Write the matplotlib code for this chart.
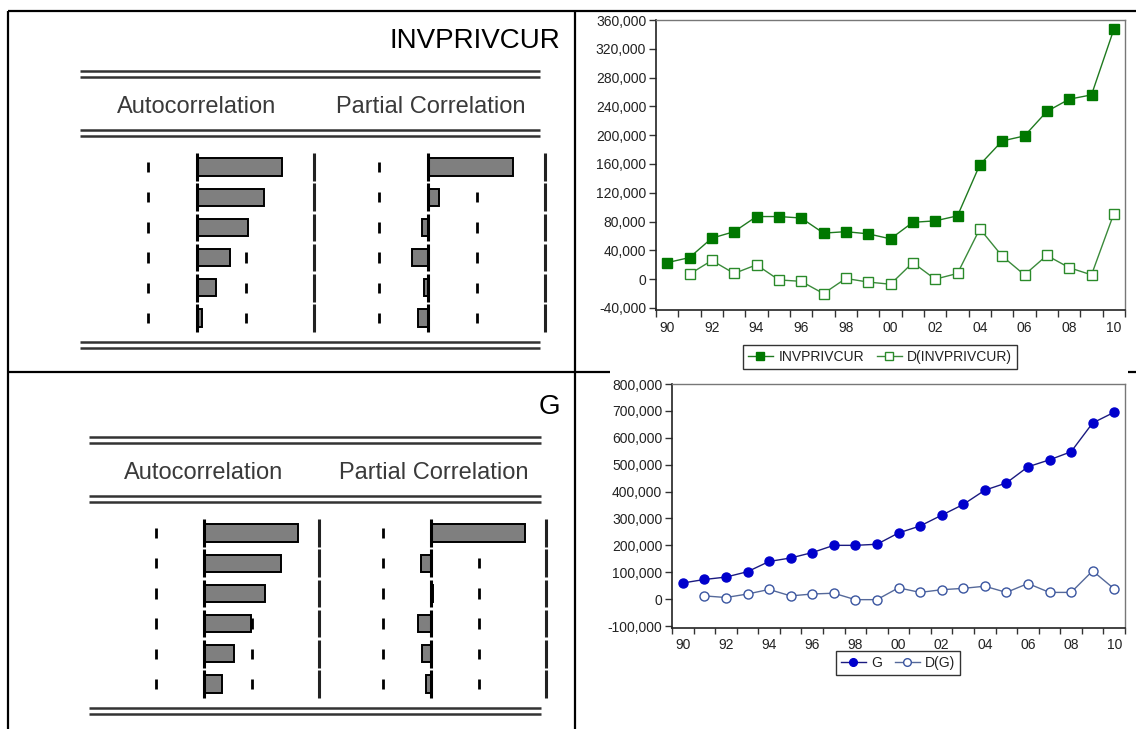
import numpy as np
import matplotlib
matplotlib.use("Agg")
import matplotlib.pyplot as plt
from matplotlib.ticker import FuncFormatter, FixedLocator

plt.rcParams.update({
    "font.family": ["Liberation Sans", "DejaVu Sans"],
    "axes.unicode_minus": False,
})

W, H = 1136, 729

# ---- data ----
YEARS = list(range(1990, 2011))
INVPRIVCUR = [23000, 30000, 57000, 66000, 87000, 87000, 85000, 64000, 66000, 63000,
              56000, 79000, 81000, 88000, 159000, 192000, 199000, 233000, 250000, 256000, 347000]
D_INVPRIVCUR = [np.nan, 7000, 26000, 8000, 20000, -1000, -3000, -20000, 1000, -4000,
                -7000, 23000, 0, 8000, 70000, 32000, 6000, 33000, 16000, 6000, 91000]
G = [60000, 73000, 82000, 102000, 140000, 153000, 173000, 200000, 200000, 204000,
     246000, 272000, 312000, 352000, 405000, 432000, 492000, 518000, 548000, 655000, 695000]
D_G = [np.nan, 12000, 6000, 19000, 36000, 12000, 19000, 22000, -2000, -2000,
       42000, 25000, 35000, 40000, 48000, 25000, 58000, 25000, 25000, 105000, 38000]

LAGS = [1, 2, 3, 4, 5, 6]
ACF_INV = [0.725, 0.57, 0.44, 0.28, 0.16, 0.04]
PACF_INV = [0.73, 0.09, -0.05, -0.14, -0.03, -0.085]
ACF_G = [0.82, 0.67, 0.53, 0.41, 0.26, 0.16]
PACF_G = [0.82, -0.09, 0.02, -0.11, -0.08, -0.04]
CONF = 0.42


def rect(l, t, r, b):
    return [l / W, 1 - b / H, (r - l) / W, (b - t) / H]


fig = plt.figure(figsize=(W / 100, H / 100), dpi=100)
fig.patch.set_facecolor("white")

# overlay in pixel space for the table frame and headings
ov = fig.add_axes([0, 0, 1, 1])
ov.set_xlim(0, W); ov.set_ylim(H, 0); ov.axis("off")
k = dict(color="black", lw=1.6, solid_capstyle="butt")
ov.plot([8, W], [11, 11], **k)
ov.plot([8, 8], [11, H], **k)
ov.plot([575, 575], [11, H], **k)
ov.plot([8, 610], [372, 372], **k)
ov.plot([1128, W], [372, 372], **k)


def correlogram(block_top, x0, acf, pacf, name):
    # block_top: y of first double line; x0: pixel of ACF -1
    span = 117 if name != "G" else 115
    x_right = x0 + 4 * span - 8
    dl = dict(color="#333333", lw=1.8, solid_capstyle="butt")
    for y in (block_top, block_top + 59, block_top + 271):
        ov.plot([x0, x_right], [y, y], **dl)
        ov.plot([x0, x_right], [y + 6, y + 6], **dl)
    ov.text(x0 + span, block_top + 36, "Autocorrelation", ha="center", va="center",
            fontsize=17, color="#3a3a3a")
    ov.text(x0 + 3 * span, block_top + 36, "Partial Correlation", ha="center", va="center",
            fontsize=17, color="#3a3a3a")
    ov.text(560, block_top - 30, name, ha="right", va="center", fontsize=20, color="black")
    rows_top, rows_bot = block_top + 81, block_top + 262
    for i, vals in enumerate((acf, pacf)):
        l = x0 + i * 2 * span - (3 if i else 0)
        ax = fig.add_axes(rect(l, rows_top, l + 2 * span, rows_bot))
        ax.set_xlim(-1, 1); ax.set_ylim(6.5, 0.5); ax.axis("off")
        for r in LAGS:
            ax.vlines(0, r - 0.46, r + 0.46, color="black", lw=2.2, zorder=4)
            ax.vlines(1, r - 0.46, r + 0.46, color="#222222", lw=2.2, zorder=4, clip_on=False)
            ax.vlines([-CONF, CONF], r - 0.17, r + 0.17, color="black", lw=2, zorder=1)
        ax.barh(LAGS, vals, height=0.57, left=0, color="#7f7f7f", edgecolor="black",
                lw=1.4, zorder=3)


correlogram(71, 80, ACF_INV, PACF_INV, "INVPRIVCUR")
correlogram(437, 89, ACF_G, PACF_G, "G")


def line_chart(box, ylim, yticks, s1, s2, names, c, marker, leg_xy, tlen, xpad):
    ax = fig.add_axes(rect(*box))
    ax.plot(YEARS, s1, color=c["line1"], lw=1, marker=marker, ms=6.5,
            mfc=c["mark1"], mec=c["mark1"], label=names[0])
    ax.plot(YEARS, s2, color=c["line2"], lw=1, marker=marker, ms=6.5,
            mfc="white", mec=c["mark2"], mew=1, label=names[1])
    ax.set_xlim(1989.5, 2010.5)
    ax.set_ylim(*ylim)
    ax.set_yticks(yticks)
    ax.yaxis.set_major_formatter(FuncFormatter(lambda v, p: f"{v:,.0f}"))
    ax.xaxis.set_major_locator(FixedLocator(np.arange(1989.5, 2011, 1.0)))
    ax.xaxis.set_major_formatter(FuncFormatter(lambda v, p: ""))
    ax.xaxis.set_minor_locator(FixedLocator(YEARS[::2]))
    ax.xaxis.set_minor_formatter(FuncFormatter(lambda v, p: f"{int(v) % 100:02d}"))
    ax.tick_params(axis="x", which="major", length=tlen, width=1, color="#333333", direction="out")
    ax.tick_params(axis="x", which="minor", length=0, labelsize=10, labelcolor="#222222", pad=xpad)
    ax.tick_params(axis="y", length=5, width=1, color="#333333", labelsize=10,
                   labelcolor="#222222", pad=2)
    for s in ("top", "right"):
        ax.spines[s].set_color("#777777"); ax.spines[s].set_linewidth(1)
    for s in ("left", "bottom"):
        ax.spines[s].set_color("#222222"); ax.spines[s].set_linewidth(1.2)
    leg = ax.legend(loc="center", bbox_to_anchor=(leg_xy[0] / W, 1 - leg_xy[1] / H),
                    bbox_transform=fig.transFigure, ncol=2, fontsize=10, frameon=True,
                    fancybox=False, edgecolor="black", handlelength=1.8, handletextpad=0.4,
                    columnspacing=0.9, borderpad=0.35, markerscale=0.85)
    leg.get_frame().set_linewidth(1)
    for t in leg.get_texts():
        t.set_color("#222222")


line_chart((656, 20, 1125, 310), (-42800, 360000), np.arange(-40000, 360001, 40000),
           INVPRIVCUR, D_INVPRIVCUR, ["INVPRIVCUR", "D(INVPRIVCUR)"],
           dict(line1="#1f7a1f", mark1="#007800", line2="#3a8a3a", mark2="#2a8a2a"),
           "s", (880, 357), 5, 8)
line_chart((672, 384, 1125, 628), (-107400, 800000), np.arange(-100000, 800001, 100000),
           G, D_G, ["G", "D(G)"],
           dict(line1="#1a1a80", mark1="#0000cc", line2="#55699a", mark2="#3a55a0"),
           "o", (898, 663), 4, 7)

fig.savefig("out.png", dpi=100, facecolor="white")
